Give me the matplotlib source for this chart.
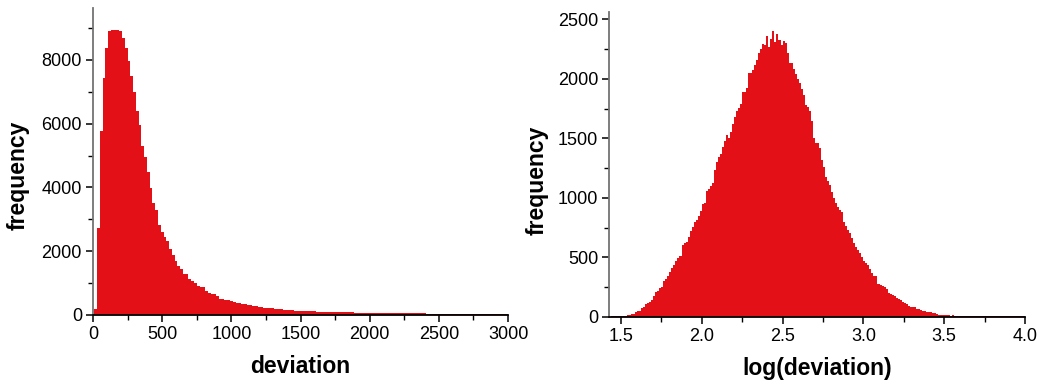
"""
Two histograms of the deviation values: raw (left) and log10 (right).
"""

import numpy as np
import matplotlib
matplotlib.use("Agg")
import matplotlib.pyplot as plt
import matplotlib.ticker as mtick

plt.rcParams["font.family"] = ["Liberation Sans", "DejaVu Sans"]

BAR_COLOR = "#E31017"

# --- left panel: deviation, bins of 20 starting at 10 ---
dev_bin_start = 10
dev_bin_width = 20
dev_counts = [
    170, 2710, 5770, 7420, 8390, 8900, 8940, 8940, 8950, 8920,
    8680, 8370, 7980, 7500, 7000, 6410, 5960, 5300, 4960, 4480,
    3970, 3520, 3290, 2820, 2610, 2450, 2330, 2050, 1870, 1684,
    1537, 1443, 1275, 1275, 1108, 1055, 982, 898, 866, 866,
    751, 667, 646, 635, 583, 495, 480, 462, 450, 420,
    410, 378, 368, 335, 326, 305, 296, 282, 275, 252,
    244, 216, 210, 200, 195, 190, 180, 164, 160, 150,
    143, 140, 130, 122, 120, 115,
    112, 110, 106, 104, 100, 98, 96, 92, 90, 88,
    85, 84, 80, 78, 77, 75, 72, 70, 68, 68,
    65, 63, 62, 60, 58, 57, 56, 54, 53, 52,
    50, 49, 48, 47, 46, 45, 44, 43, 42, 41,
    40, 40, 39, 38, 37, 37, 36, 35, 35, 34,
    34, 33, 33, 32, 32, 31, 31, 30, 30, 30,
    29, 29, 28, 28, 28, 27, 27, 27, 26, 26,
    26, 25, 25, 25,
]

# --- right panel: log(deviation), bins of 0.0125 starting at 1.4375 ---
log_bin_start = 1.4375
log_bin_width = 0.0125
log_counts = [
    6, 2, 2, 3, 4, 8, 8, 10, 14, 16,
    22, 24, 42, 45, 50, 75, 85, 104, 115, 126,
    140, 175, 207, 219, 238, 250, 297, 320, 345, 375,
    406, 431, 470, 490, 510, 600, 616, 625, 672, 720,
    756, 800, 812, 849, 890, 947, 953, 1060, 1073, 1100,
    1121, 1233, 1297, 1345, 1370, 1429, 1480, 1527, 1499, 1555,
    1617, 1680, 1729, 1751, 1788, 1891, 1891, 1927, 2051, 2051,
    2073, 2115, 2163, 2221, 2250, 2297, 2283, 2359, 2264, 2339,
    2401, 2311, 2381, 2330, 2283, 2319, 2300, 2218, 2135, 2135,
    2087, 2045, 2000, 1967, 1911, 1864, 1780, 1760, 1732, 1646,
    1499, 1463, 1463, 1415, 1322, 1261, 1177, 1140, 1107, 1051,
    995, 953, 920, 897, 877, 799, 763, 730, 701, 659,
    623, 589, 560, 539, 499, 470, 449, 435, 400, 371,
    343, 340, 273, 270, 261, 250, 231, 197, 195, 183,
    170, 161, 147, 140, 127, 115, 107, 90, 85, 79,
    79, 65, 62, 55, 51, 50, 42, 40, 36, 34,
    33, 20, 18, 17, 16, 15, 12, 11, 10, 11,
    9, 10, 8,
    6, 5, 7, 5, 4, 6, 5, 5, 3, 6,
    4, 5, 5, 4, 3, 5, 2, 4, 3, 5,
    4, 2, 3, 4, 5, 2, 3, 4, 2, 3,
    5, 2,
]


def style_axes(ax):
    ax.spines["top"].set_visible(False)
    ax.spines["right"].set_visible(False)
    ax.spines["left"].set_color("0.45")
    ax.spines["left"].set_linewidth(1.3)
    ax.spines["bottom"].set_color("black")
    ax.spines["bottom"].set_linewidth(1.3)
    ax.tick_params(which="major", direction="out", length=5, width=1.1,
                   labelsize=13, pad=3)
    ax.tick_params(which="minor", direction="out", length=3.5, width=1.0)


def draw_hist(ax, counts, start, width):
    edges = start + width * np.arange(len(counts) + 1)
    ax.stairs(counts, edges, fill=True, color=BAR_COLOR, linewidth=0)


fig = plt.figure(figsize=(10.39, 3.85), dpi=100)

# Left: raw deviation
ax = fig.add_axes([0.0895, 0.1826, 0.3995, 0.7964])
draw_hist(ax, dev_counts, dev_bin_start, dev_bin_width)
ax.set_xlim(0, 3000)
ax.set_ylim(0, 9630)
ax.xaxis.set_major_locator(mtick.MultipleLocator(500))
ax.xaxis.set_minor_locator(mtick.MultipleLocator(250))
ax.yaxis.set_major_locator(mtick.MultipleLocator(2000))
ax.yaxis.set_minor_locator(mtick.MultipleLocator(1000))
style_axes(ax)
ax.set_xlabel("deviation", fontsize=16.5, fontweight="bold", labelpad=9)
ax.set_ylabel("frequency", fontsize=16.5, fontweight="bold")
ax.yaxis.set_label_coords(-0.153, 0.455)

# Right: log(deviation)
ax = fig.add_axes([0.5864, 0.1774, 0.4001, 0.7922])
draw_hist(ax, log_counts, log_bin_start, log_bin_width)
ax.set_xlim(1.428, 4.0)
ax.set_ylim(0, 2565)
ax.xaxis.set_major_locator(mtick.MultipleLocator(0.5))
ax.xaxis.set_minor_locator(mtick.MultipleLocator(0.25))
ax.xaxis.set_major_formatter(mtick.FormatStrFormatter("%.1f"))
ax.yaxis.set_major_locator(mtick.MultipleLocator(500))
ax.yaxis.set_minor_locator(mtick.MultipleLocator(250))
style_axes(ax)
ax.set_xlabel("log(deviation)", fontsize=16.5, fontweight="bold", labelpad=9)
ax.set_ylabel("frequency", fontsize=16.5, fontweight="bold")
ax.yaxis.set_label_coords(-0.147, 0.448)

fig.savefig("out.png", dpi=100, facecolor="white")
plt.close(fig)
